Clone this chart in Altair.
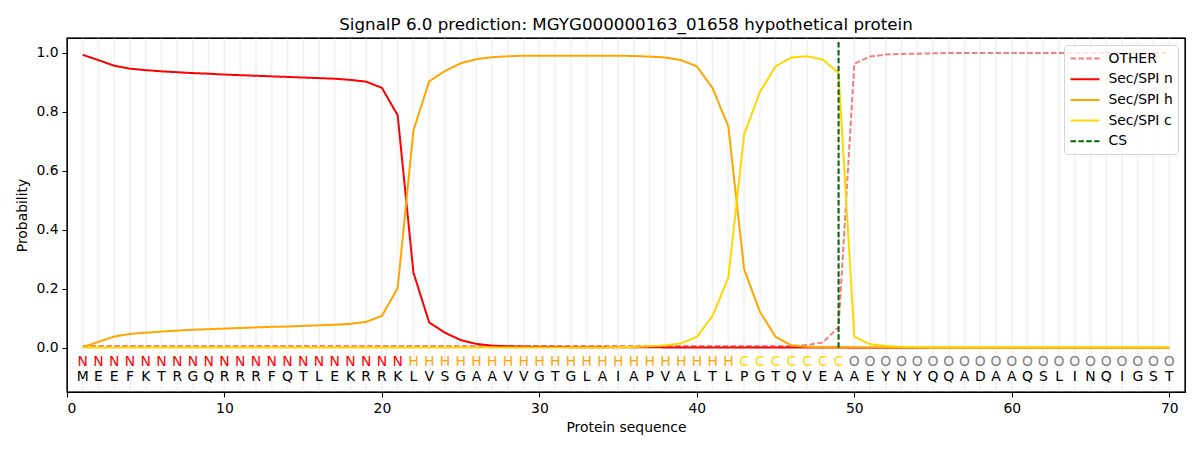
import altair as alt
import pandas as pd

positions = list(range(1, 71))
sequence = list("MEEFKTRGQRRRFQTLEKRRKLVSGAAVVGTGLAIAPVALTLPGTQVEAAEYNYQQADAAQSLINQIGST")
region_labels = list("N" * 21 + "H" * 21 + "C" * 7 + "O" * 21)

other = [0.006] * 45 + [0.006, 0.009, 0.018, 0.070, 0.963, 0.987, 0.994, 0.996, 0.997, 0.998] + [0.999] * 15

sec_n = [0.993, 0.975, 0.956, 0.946, 0.941, 0.937, 0.934, 0.931, 0.929, 0.926,
         0.924, 0.922, 0.920, 0.918, 0.916, 0.914, 0.912, 0.908, 0.902, 0.881,
         0.788, 0.255, 0.086, 0.051, 0.026, 0.013, 0.007, 0.005, 0.004, 0.003,
         0.003, 0.002, 0.002, 0.002, 0.002, 0.002, 0.002, 0.001, 0.001, 0.001,
         0.001, 0.001, 0.001, 0.001, 0.001, 0.001, 0.001, 0.001, 0.001, 0.000] + [0.000] * 20

sec_h = [0.002, 0.020, 0.038, 0.047, 0.051, 0.055, 0.058, 0.061, 0.063, 0.065,
         0.067, 0.069, 0.071, 0.072, 0.074, 0.076, 0.078, 0.081, 0.088, 0.108,
         0.202, 0.736, 0.903, 0.938, 0.964, 0.978, 0.985, 0.988, 0.990, 0.990,
         0.990, 0.990, 0.990, 0.990, 0.990, 0.989, 0.987, 0.984, 0.975, 0.954,
         0.880, 0.750, 0.267, 0.122, 0.037, 0.008, 0.003, 0.002, 0.002, 0.001] + [0.001] * 20

sec_c = [0.001] * 34 + [0.002, 0.003, 0.005, 0.008, 0.015, 0.037,
                        0.108, 0.238, 0.722, 0.866, 0.954, 0.984, 0.988, 0.977, 0.931, 0.037,
                        0.012, 0.006, 0.003, 0.002] + [0.001] * 16

cs_position = 49
cs_span = [0.0, 1.04]

x_domain = [0, 71]
y_domain = [-0.15, 1.05]
grid_span = [-0.148, 1.048]

series_order = ["OTHER", "Sec/SPI n", "Sec/SPI h", "Sec/SPI c", "CS"]
series_colors = ["#F08080", "#FF0000", "#FFA500", "#FFD700", "#006400"]
series_dashes = [[5.5, 2.4], [1, 0], [1, 0], [1, 0], [5.5, 2.4]]
label_colors = {"N": "#FF0000", "H": "#FFA500", "C": "#FFD700", "O": "#808080"}

FONT = "DejaVu Sans"

rows = []
for name, vals in zip(series_order[:4], [other, sec_n, sec_h, sec_c]):
    for p, v in zip(positions, vals):
        rows.append({"pos": p, "prob": v, "series": name})
for v in cs_span:
    rows.append({"pos": cs_position, "prob": v, "series": "CS"})
df = pd.DataFrame(rows)

lab_df = pd.DataFrame({"pos": positions, "seq": sequence, "label": region_labels})
lab_df["ylab"] = -0.047
lab_df["yseq"] = -0.099
lab_df["g0"] = grid_span[0]
lab_df["g1"] = grid_span[1]

x_scale = alt.Scale(domain=x_domain, nice=False, zero=False)
y_scale = alt.Scale(domain=y_domain, nice=False, zero=False)

x_enc = alt.X("pos:Q", scale=x_scale,
              axis=alt.Axis(values=[0, 10, 20, 30, 40, 50, 60, 70], title="Protein sequence",
                            grid=False, format="d"))
y_axis = alt.Axis(values=[0.0, 0.2, 0.4, 0.6, 0.8, 1.0], format=".1f", title="Probability", grid=False)

grid = alt.Chart(lab_df).mark_rule(color="#f3f3f3", strokeWidth=2).encode(
    x=x_enc, y=alt.Y("g0:Q", scale=y_scale, axis=y_axis), y2="g1:Q")

legend = alt.Legend(orient="top-right", offset=7,
                    symbolType="M-2,0L2,0", symbolSize=210, symbolStrokeWidth=2,
                    symbolOffset=7.5, labelOffset=15,
                    labelFont=FONT, labelFontSize=13.9, labelColor="black",
                    padding=5, rowPadding=4.7,
                    fillColor="rgba(255,255,255,0.8)", strokeColor="#d5d5d5",
                    cornerRadius=3)

lines = alt.Chart(df).mark_line(strokeWidth=2, clip=True).encode(
    x=x_enc,
    y=alt.Y("prob:Q", scale=y_scale, axis=y_axis),
    color=alt.Color("series:N", scale=alt.Scale(domain=series_order, range=series_colors),
                    sort=series_order, title=None, legend=legend),
    strokeDash=alt.StrokeDash("series:N", scale=alt.Scale(domain=series_order, range=series_dashes),
                              sort=series_order, title=None, legend=legend),
)

text_layers = []
for lab, col in label_colors.items():
    text_layers.append(
        alt.Chart(lab_df).transform_filter(alt.datum.label == lab)
        .mark_text(font=FONT, fontSize=13.9, color=col, baseline="middle", align="center")
        .encode(x=x_enc, y=alt.Y("ylab:Q", scale=y_scale, axis=y_axis), text="label:N")
    )

seq_text = alt.Chart(lab_df).mark_text(font=FONT, fontSize=13.9, color="black",
                                       baseline="middle", align="center").encode(
    x=x_enc, y=alt.Y("yseq:Q", scale=y_scale, axis=y_axis), text="seq:N")

frame = alt.Chart(pd.DataFrame({"k": [0]})).mark_rect(
    fillOpacity=0, stroke="black", strokeWidth=1.1).encode(
    x=alt.datum(x_domain[0], scale=x_scale), x2=alt.datum(x_domain[1]),
    y=alt.datum(y_domain[0], scale=y_scale), y2=alt.datum(y_domain[1]))

chart = alt.layer(grid, lines, *text_layers, seq_text, frame).properties(
    width=1118, height=354,
    title=alt.Title("SignalP 6.0 prediction: MGYG000000163_01658 hypothetical protein",
                    font=FONT, fontSize=16.7, fontWeight="normal", color="black",
                    anchor="middle", baseline="bottom", offset=-13),
    autosize=alt.AutoSizeParams(type="none"),
    padding={"left": 59, "top": 30, "right": 7, "bottom": 50},
).configure_view(
    stroke="black", strokeWidth=1.1
).configure_axis(
    labelFont=FONT, labelFontSize=13.9, labelColor="black",
    titleFont=FONT, titleFontSize=13.9, titleColor="black", titleFontWeight="normal",
    tickColor="black", tickSize=5, tickWidth=1.1, domain=False, labelPadding=4,
).configure_axisX(titlePadding=6).configure_axisY(titlePadding=6)

chart.save("out.html", embed_options={"renderer": "svg", "actions": False})
